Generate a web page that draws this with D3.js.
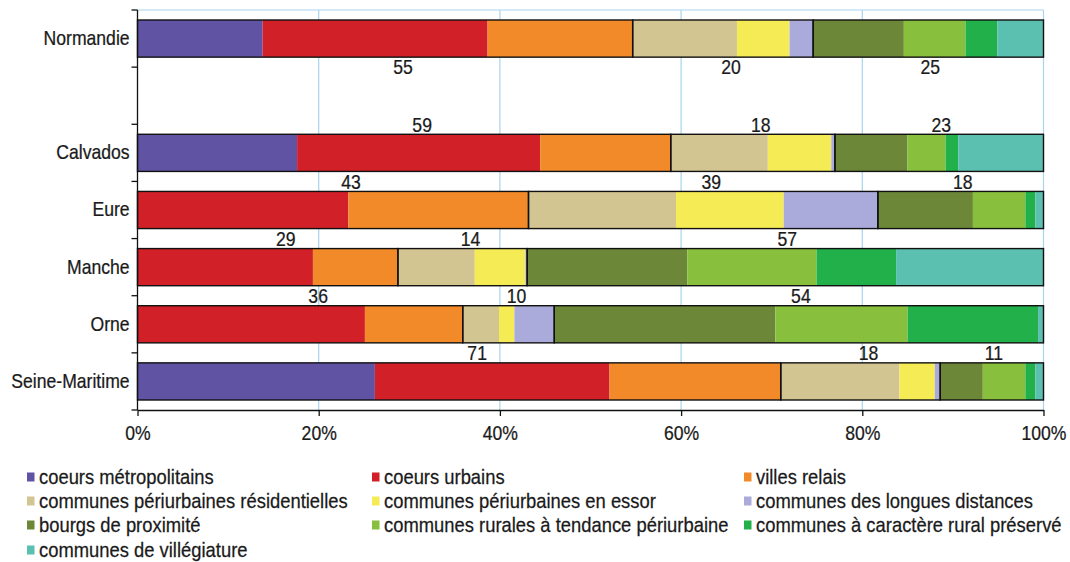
<!DOCTYPE html>
<html>
<head>
<meta charset="utf-8">
<script src="https://cdn.jsdelivr.net/npm/d3@7"></script>
<style>
  body { margin: 0; background: #fff; }
  text { font-family: "Liberation Sans", Arial, sans-serif; fill: #1a1a1a; stroke: #1a1a1a; stroke-width: 0.25px; }
</style>
</head>
<body>
<script>
// categories (the empty row is the gap under Normandie)
var regions = ["Normandie", "Calvados", "Eure", "Manche", "Orne", "Seine-Maritime"];
var rows = ["Normandie", " ", "Calvados", "Eure", "Manche", "Orne", "Seine-Maritime"];

var seriesNames = [
  "coeurs métropolitains",
  "coeurs urbains",
  "villes relais",
  "communes périurbaines résidentielles",
  "communes périurbaines en essor",
  "communes des longues distances",
  "bourgs de proximité",
  "communes rurales à tendance périurbaine",
  "communes à caractère rural préservé",
  "communes de villégiature"
];
var colors = ["#6153a3", "#d12027", "#f28a2a", "#d3c592", "#f5eb55",
              "#aaabda", "#6c8737", "#88c03e", "#22b04a", "#5bc0b0"];

// shares in % per region, same order as regions
var metro    = [13.8, 17.6, 0,    0,    0,    26.2];
var urbains  = [24.8, 26.8, 23.3, 19.4, 25.1, 25.9];
var relais   = [16.0, 14.4, 19.9, 9.4,  10.8, 18.9];
var resid    = [11.5, 10.7, 16.3, 8.5,  4.0,  13.1];
var essor    = [5.8,  7.0,  11.9, 5.6,  1.7,  3.9];
var longues  = [2.6,  0.4,  10.4, 0.2,  4.4,  0.6];
var bourgs   = [10.0, 8.0,  10.5, 17.7, 24.4, 4.7];
var rurales  = [6.8,  4.2,  5.8,  14.3, 14.6, 4.7];
var preserve = [3.5,  1.4,  1.1,  8.8,  14.4, 1.1];
var villeg   = [5.1,  9.4,  0.9,  16.3, 0.6,  0.9];

// totals of the three groups, printed over the bars
var groupLabels = [[55, 20, 25], [59, 18, 23], [43, 39, 18], [29, 14, 57], [36, 10, 54], [71, 18, 11]];
var groupBreaks = [[0, 3], [3, 6], [6, 10]];
var xTicks = [0, 0.2, 0.4, 0.6, 0.8, 1];

var allSeries = [metro, urbains, relais, resid, essor, longues, bourgs, rurales, preserve, villeg];
var table = regions.map(function(r, i) {
  var o = { region: r };
  for (var k = 0; k < allSeries.length; k++) o["s" + k] = allSeries[k][i];
  return o;
});
var keys = allSeries.map(function(d, k) { return "s" + k; });
var stacked = d3.stack().keys(keys).offset(d3.stackOffsetExpand)(table);

var width = 1070, height = 562;
var plotLeft = 137.5, plotRight = 1043.5, plotTop = 10, plotBottom = 410;
var squeeze = 0.88; // condensed look of the original font

var svg = d3.select("body").append("svg")
            .attr("width", width)
            .attr("height", height);

var x = d3.scaleLinear().domain([0, 1]).range([plotLeft, plotRight]);
var y = d3.scaleBand().domain(rows).range([plotTop, plotBottom])
          .paddingInner(0.35).paddingOuter(0.175);
var gap = (y.step() - y.bandwidth()) / 2;

function narrowText(px, py, str, anchor, sx) {
  return svg.append("text")
            .attr("transform", "translate(" + px + "," + py + ") scale(" + (sx || squeeze) + ",1)")
            .attr("text-anchor", anchor || "start")
            .attr("dy", "0.36em")
            .style("font-size", "20px")
            .text(str);
}

// grid + top border
svg.append("line")
   .attr("x1", plotLeft).attr("x2", plotRight).attr("y1", plotTop).attr("y2", plotTop)
   .style("stroke", "#a8d4ec").style("stroke-width", 1.2);
svg.selectAll(".grid").data(xTicks.slice(1)).enter().append("line")
   .attr("x1", function(d) { return x(d); })
   .attr("x2", function(d) { return x(d); })
   .attr("y1", plotTop).attr("y2", plotBottom)
   .style("stroke", "#a8d4ec").style("stroke-width", 1.2);

// group totals sit under the bars
var labelShift = [18, 8, 2];
regions.forEach(function(r, i) {
  var ly = i === 0 ? y(r) + y.bandwidth() + gap : y(r) - gap;
  groupBreaks.forEach(function(g, j) {
    var x0 = stacked[g[0]][i][0], x1 = stacked[g[1] - 1][i][1];
    narrowText((x(x0) + x(x1)) / 2 + labelShift[j], ly, groupLabels[i][j], "middle");
  });
});

// segments
svg.selectAll(".serie").data(stacked).enter().append("g")
   .style("fill", function(d, k) { return colors[k]; })
   .selectAll("rect").data(function(d) { return d; }).enter().append("rect")
   .attr("x", function(d) { return x(d[0]); })
   .attr("width", function(d) { return x(d[1]) - x(d[0]); })
   .attr("y", function(d) { return y(d.data.region); })
   .attr("height", y.bandwidth());

// black outlines round each group
regions.forEach(function(r, i) {
  groupBreaks.forEach(function(g) {
    var x0 = stacked[g[0]][i][0], x1 = stacked[g[1] - 1][i][1];
    svg.append("rect")
       .attr("x", x(x0)).attr("width", x(x1) - x(x0))
       .attr("y", y(r)).attr("height", y.bandwidth())
       .style("fill", "none")
       .style("stroke", "#111")
       .style("stroke-width", 1.4);
  });
});

// axes
var yAxis = d3.axisLeft(y).tickSize(0).tickPadding(9);
var gy = svg.append("g").attr("transform", "translate(" + plotLeft + ",0)").call(yAxis);
gy.select(".domain").remove();
gy.selectAll("text")
  .style("font-size", "20px")
  .style("font-family", "'Liberation Sans', Arial, sans-serif")
  .style("fill", "#1a1a1a")
  .attr("transform", "scale(" + squeeze + ",1)");

svg.append("line")
   .attr("x1", plotLeft).attr("x2", plotLeft).attr("y1", plotTop).attr("y2", plotBottom)
   .style("stroke", "#111").style("stroke-width", 1.3);
svg.selectAll(".ytick").data(d3.range(rows.length + 1)).enter().append("line")
   .attr("x1", plotLeft - 6).attr("x2", plotLeft)
   .attr("y1", function(i) { return plotTop + i * y.step(); })
   .attr("y2", function(i) { return plotTop + i * y.step(); })
   .style("stroke", "#111").style("stroke-width", 1.3);

var xAxis = d3.axisBottom(x).tickValues(xTicks).tickFormat(d3.format(".0%"))
              .tickSize(6).tickSizeOuter(0).tickPadding(10);
var gx = svg.append("g").attr("transform", "translate(0," + plotBottom + ")").call(xAxis);
gx.select(".domain").style("stroke", "#111").style("stroke-width", 1.3);
gx.selectAll(".tick line").style("stroke", "#111").style("stroke-width", 1.3);
gx.selectAll("text")
  .style("font-size", "20px")
  .style("font-family", "'Liberation Sans', Arial, sans-serif")
  .style("fill", "#1a1a1a")
  .attr("transform", "scale(" + squeeze + ",1)");

// legend
var legendX = [27, 372, 744];
var legendY = [477, 501, 525, 550];
seriesNames.forEach(function(name, i) {
  var lx = legendX[i % 3], ly = legendY[Math.floor(i / 3)];
  svg.append("rect")
     .attr("x", lx).attr("y", ly - 4.5).attr("width", 7.5).attr("height", 9)
     .style("fill", colors[i]);
  narrowText(lx + 12, ly, name, "start", 0.92);
});
</script>
</body>
</html>
